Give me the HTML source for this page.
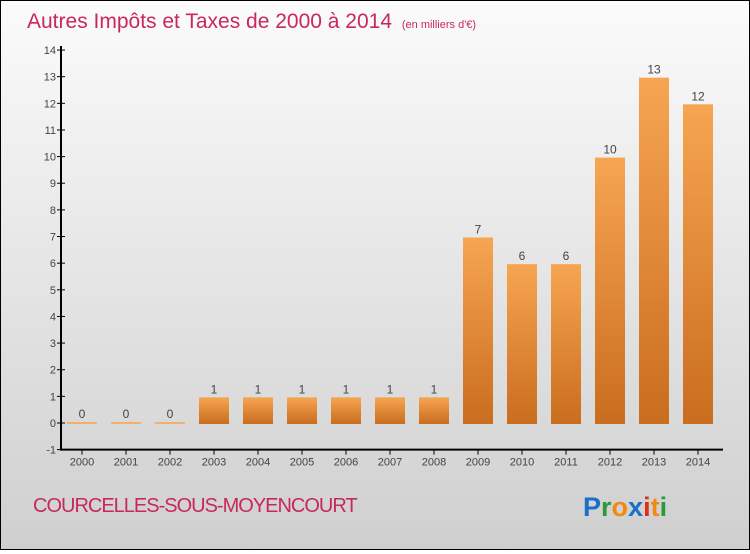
<!DOCTYPE html>
<html><head><meta charset="utf-8"><style>
body{margin:0;width:750px;height:550px;overflow:hidden;font-family:"Liberation Sans",sans-serif}
#c{position:absolute;left:0;top:0;width:748px;height:548px;border:1px solid #000;background:linear-gradient(#fbfbfb,#cfcfcf)}
</style></head><body>
<div id="c">
<svg width="748" height="548" id="s">
<defs><linearGradient id="g" x1="0" y1="0" x2="0" y2="1"><stop offset="0" stop-color="#f7a552"/><stop offset="1" stop-color="#c96d1e"/></linearGradient></defs>
<text x="26" y="27" font-size="21" fill="#c8285a">Autres Impôts et Taxes de 2000 à 2014 <tspan font-size="11" dx="4">(en milliers d'€)</tspan></text>
<text x="32" y="511" font-size="20" fill="#c8285a" letter-spacing="-1">COURCELLES-SOUS-MOYENCOURT</text>
<text x="582" y="515" font-size="27" font-weight="bold"><tspan fill="#1a6fc9">P</tspan><tspan fill="#2a9a3a">r</tspan><tspan fill="#f08a10">o</tspan><tspan fill="#1a6fc9">x</tspan><tspan fill="#e03010">i</tspan><tspan fill="#f08a10">t</tspan><tspan fill="#2a9a3a">i</tspan></text>
<g id="ax"></g><g id="bars"></g>
</svg></div>
<script>
const years=["2000","2001","2002","2003","2004","2005","2006","2007","2008","2009","2010","2011","2012","2013","2014"];
const values=[0,0,0,1,1,1,1,1,1,7,6,6,10,13,12];
const yTicks=[-1,0,1,2,3,4,5,6,7,8,9,10,11,12,13,14];
const NS="http://www.w3.org/2000/svg";
function y(v){return 422-v*26.64;}
function x(i){return 81+i*44;}
function mk(t,a,p){const e=document.createElementNS(NS,t);for(const k in a)e.setAttribute(k,a[k]);p.appendChild(e);return e;}
const ax=document.getElementById('ax'),bg=document.getElementById('bars');
const yl=mk('line',{x1:60,y1:y(14)-4,x2:60,y2:y(-1),stroke:'#000','stroke-width':2},ax);


const xl=mk('line',{x1:59,y1:y(-1),x2:722,y2:y(-1),stroke:'#000','stroke-width':2},ax);


yTicks.forEach(v=>{
 mk('line',{x1:56,x2:64,y1:y(v),y2:y(v),stroke:'#000'},ax);
 const t=mk('text',{x:55,y:y(v)+4,'text-anchor':'end','font-size':11,fill:'#444'},ax);t.textContent=v;
 
 
});
years.forEach((yr,i)=>{
 mk('line',{x1:x(i),x2:x(i),y1:y(-1),y2:y(-1)+5,stroke:'#000'},ax);
 const t=mk('text',{x:x(i),y:y(-1)+16,'text-anchor':'middle','font-size':11,fill:'#444'},ax);t.textContent=yr;
 
 
 const v=values[i];
 const h=Math.max(2,y(0)-y(v));
 const r=mk('rect',{x:x(i)-15,y:y(0)+1-h,width:30,height:h,fill:v?'url(#g)':'#f0b070'},bg);
 
 
 const l=mk('text',{x:x(i),y:y(0)+1-h-4,'text-anchor':'middle','font-size':12,fill:'#444'},bg);l.textContent=v;
 
 
});
</script>
</body></html>
